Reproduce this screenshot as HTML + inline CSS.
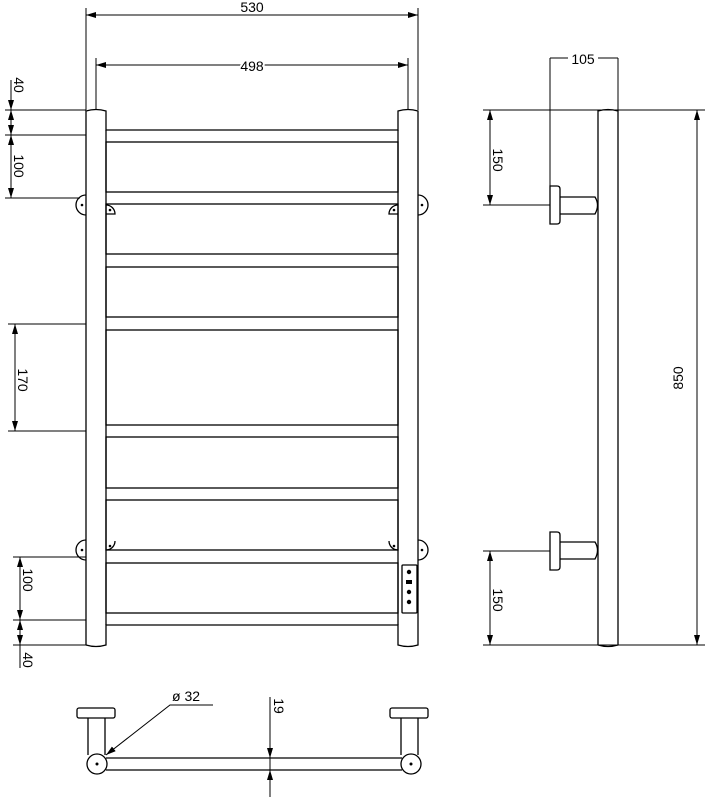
<!DOCTYPE html>
<html><head><meta charset="utf-8"><style>html,body{margin:0;padding:0;background:#fff}svg{display:block}</style></head>
<body>
<svg width="705" height="800" viewBox="0 0 705 800" xmlns="http://www.w3.org/2000/svg" font-family="Liberation Sans, sans-serif">
<defs>
<marker id="a" viewBox="0 0 10 6" refX="10" refY="3" markerWidth="10" markerHeight="6" orient="auto-start-reverse" markerUnits="userSpaceOnUse"><path d="M0,0L10,3L0,6z" fill="#000"/></marker>
</defs>
<g fill="none" stroke="#000" stroke-width="1.3">
<!-- front view posts -->
<path d="M86,645 V111 Q96,108 106,111 V130 H398 V111 Q408,108 418,111 V645 Q408,648 398,645 V625 H106 V645 Q96,648 86,645"/>
<line x1="106" y1="130" x2="106" y2="625"/><line x1="398" y1="130" x2="398" y2="625"/>
<rect x="106" y="142" width="292" height="50"/>
<rect x="106" y="204" width="292" height="50"/>
<rect x="106" y="267" width="292" height="50"/>
<rect x="106" y="330" width="292" height="95"/>
<rect x="106" y="437" width="292" height="51"/>
<rect x="106" y="500" width="292" height="50"/>
<rect x="106" y="563" width="292" height="50"/>
<rect x="402" y="565" width="15" height="48" rx="1"/>
<!-- brackets -->
<path d="M86,195 A10,10 0 0 0 86,215"/><path d="M418,195 A10,10 0 0 1 418,215"/>
<path d="M106,205 A9,9 0 0 1 115,214 H106"/><path d="M398,205 A9,9 0 0 0 389,214 H398"/>
<path d="M86,540 A10,10 0 0 0 86,560"/><path d="M418,540 A10,10 0 0 1 418,560"/>
<path d="M106,550 A9,9 0 0 0 115,541"/><path d="M398,550 A9,9 0 0 1 389,541"/>
</g>
<g fill="#000">
<circle cx="82" cy="205" r="1.3"/><circle cx="110" cy="210" r="1.3"/><circle cx="422" cy="205" r="1.3"/><circle cx="394" cy="210" r="1.3"/>
<circle cx="82" cy="550" r="1.3"/><circle cx="110" cy="546" r="1.3"/><circle cx="422" cy="550" r="1.3"/><circle cx="394" cy="546" r="1.3"/>
<circle cx="409" cy="572" r="2.2"/><rect x="406" y="580" width="6" height="4"/><circle cx="409" cy="592" r="2.2"/><circle cx="409" cy="602" r="2.2"/>
</g>
<!-- front dims -->
<g stroke="#000" stroke-width="1" fill="none">
<line x1="86" y1="8" x2="86" y2="110"/><line x1="418" y1="8" x2="418" y2="110"/>
<line x1="86" y1="15" x2="418" y2="15" marker-start="url(#a)" marker-end="url(#a)"/>
<line x1="96" y1="58" x2="96" y2="110"/><line x1="408" y1="58" x2="408" y2="110"/>
<line x1="96" y1="65" x2="408" y2="65" marker-start="url(#a)" marker-end="url(#a)"/>
<line x1="5" y1="110" x2="86" y2="110"/><line x1="5" y1="135" x2="86" y2="135"/><line x1="5" y1="198" x2="80" y2="198"/>
<line x1="11" y1="80" x2="11" y2="110" marker-end="url(#a)"/>
<line x1="11" y1="135" x2="11" y2="198" marker-start="url(#a)" marker-end="url(#a)"/>
<line x1="11" y1="110" x2="11" y2="135" marker-start="url(#a)" marker-end="url(#a)"/>
<line x1="8" y1="324" x2="86" y2="324"/><line x1="8" y1="431" x2="86" y2="431"/>
<line x1="15" y1="324" x2="15" y2="431" marker-start="url(#a)" marker-end="url(#a)"/>
<line x1="13" y1="557" x2="86" y2="557"/><line x1="13" y1="620" x2="86" y2="620"/><line x1="13" y1="645" x2="86" y2="645"/>
<line x1="20" y1="557" x2="20" y2="620" marker-start="url(#a)" marker-end="url(#a)"/>
<line x1="20" y1="620" x2="20" y2="645" marker-start="url(#a)" marker-end="url(#a)"/>
<line x1="20" y1="645" x2="20" y2="668"/>
</g>
<g font-size="14" fill="#000">
<text x="252" y="12" text-anchor="middle">530</text>
<text x="252" y="71" text-anchor="middle" style="paint-order:stroke" stroke="#fff" stroke-width="4">498</text>
<text transform="translate(14,85) rotate(90)" text-anchor="middle">40</text>
<text transform="translate(14,166) rotate(90)" text-anchor="middle">100</text>
<text transform="translate(18,380) rotate(90)" text-anchor="middle">170</text>
<text transform="translate(23,580) rotate(90)" text-anchor="middle">100</text>
<text transform="translate(23,660) rotate(90)" text-anchor="middle">40</text>
</g>
<!-- side view -->
<g fill="none" stroke="#000" stroke-width="1.3">
<path d="M598,645 V111 Q608,108 618,111 V645 Q608,648 598,645"/>
<path d="M550,186 H557 Q560,186 560,189 V221 Q560,224 557,224 H550 Z"/>
<path d="M560,197 H595 Q600,205 595,214 H560"/>
<path d="M550,532 H557 Q560,532 560,535 V567 Q560,570 557,570 H550 Z"/>
<path d="M560,542 H595 Q600,550 595,559 H560"/>
</g>
<g stroke="#000" stroke-width="1" fill="none">
<line x1="550" y1="58" x2="550" y2="186"/><line x1="618" y1="58" x2="618" y2="110"/>
<line x1="550" y1="58" x2="568" y2="58"/><line x1="598" y1="58" x2="618" y2="58"/>
<line x1="483" y1="110" x2="705" y2="110"/>
<line x1="483" y1="205" x2="550" y2="205"/>
<line x1="490" y1="110" x2="490" y2="205" marker-start="url(#a)" marker-end="url(#a)"/>
<line x1="483" y1="551" x2="550" y2="551"/>
<line x1="483" y1="645" x2="705" y2="645"/>
<line x1="490" y1="551" x2="490" y2="645" marker-start="url(#a)" marker-end="url(#a)"/>
<line x1="697" y1="110" x2="697" y2="645" marker-start="url(#a)" marker-end="url(#a)"/>
</g>
<g font-size="14" fill="#000">
<text x="583" y="64" text-anchor="middle">105</text>
<text transform="translate(493,160) rotate(90)" text-anchor="middle">150</text>
<text transform="translate(493,600) rotate(90)" text-anchor="middle">150</text>
<text transform="translate(683,378) rotate(-90)" text-anchor="middle">850</text>
</g>
<!-- bottom view -->
<g fill="none" stroke="#000" stroke-width="1.3">
<rect x="77" y="708" width="38" height="10" rx="2"/>
<rect x="390" y="708" width="38" height="10" rx="2"/>
<line x1="88" y1="718" x2="88" y2="755"/><line x1="105" y1="718" x2="105" y2="755"/>
<line x1="401" y1="718" x2="401" y2="755"/><line x1="418" y1="718" x2="418" y2="755"/>
<line x1="106" y1="758" x2="402" y2="758"/><line x1="106" y1="770" x2="402" y2="770"/>
<circle cx="97" cy="764" r="10" fill="#fff"/><circle cx="411" cy="764" r="10" fill="#fff"/>
</g>
<circle cx="97" cy="764" r="1.5"/><circle cx="411" cy="764" r="1.5"/>
<g stroke="#000" stroke-width="1" fill="none">
<polyline points="213,705 170,705 106,755" marker-end="url(#a)"/>
<line x1="270" y1="697" x2="270" y2="758" marker-end="url(#a)"/>
<line x1="270" y1="797" x2="270" y2="770" marker-end="url(#a)"/>
<line x1="270" y1="758" x2="270" y2="770"/>
</g>
<g font-size="14" fill="#000">
<text x="172" y="701">ø  32</text>
<text transform="translate(274,706) rotate(90)" text-anchor="middle">19</text>
</g>
</svg>
</body></html>
